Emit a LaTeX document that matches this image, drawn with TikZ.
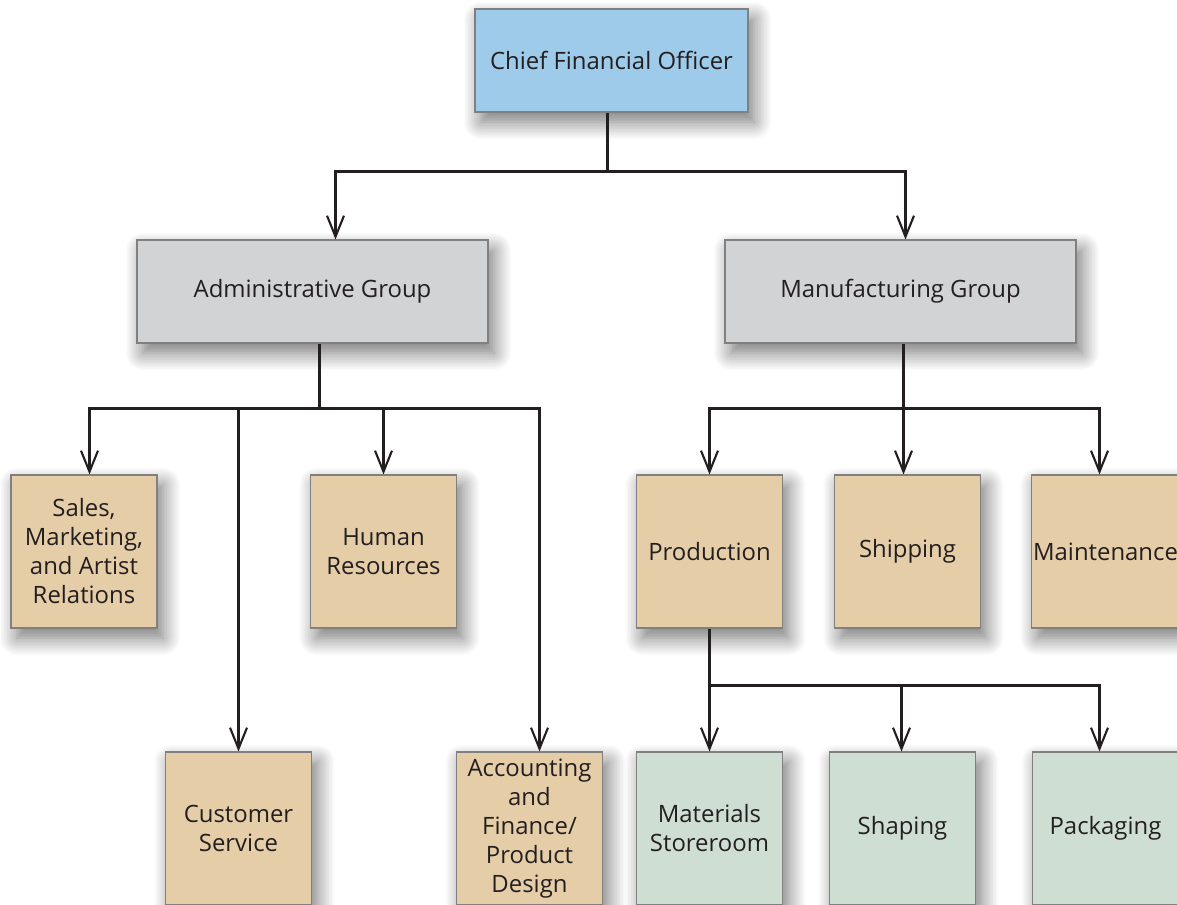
\documentclass[tikz,border=0pt]{standalone}
\usepackage{fontspec}
\setmainfont{Open Sans}
\usetikzlibrary{arrows.meta,shadows.blur}
\definecolor{bleu}{RGB}{157,203,233}
\definecolor{gris}{RGB}{209,211,212}
\definecolor{beige}{RGB}{229,205,168}
\definecolor{vert}{RGB}{207,222,210}
\definecolor{bord}{RGB}{128,128,128}
\definecolor{encre}{RGB}{35,31,32}

\begin{document}
\begin{tikzpicture}
\tikzset{boite/.style={draw=bord, line width=0.6pt, rectangle, align=center, text=encre,
    font=\fontsize{13.6pt}{16.5pt}\selectfont,
    blur shadow={shadow xshift=0.12cm, shadow yshift=-0.2cm, shadow blur radius=0.35cm,
      shadow blur steps=12, shadow opacity=55}},
  chef/.style={boite, fill=bleu, minimum width=5.46cm, minimum height=2.06cm},
  groupe/.style={boite, fill=gris, minimum width=7.02cm, minimum height=2.06cm},
  service/.style={boite, fill=beige, minimum width=2.92cm, minimum height=3.06cm, inner sep=1pt},
  atelier/.style={boite, fill=vert, minimum width=2.92cm, minimum height=3.06cm, inner sep=1pt},
  lien/.style={line width=1.2pt, draw=encre},
  fleche/.style={lien, -{Straight Barb[length=0.42cm, width=0.34cm, line width=1.2pt]}}}
\useasboundingbox (0,0) rectangle (23.54,-18.1);
\clip (0,0) rectangle (23.54,-18.1);
\node[chef] (C0) at (12.23,-1.21) {Chief Financial Officer};
\node[groupe] (G1) at (6.25,-5.83) {Administrative Group};
\node[groupe] (G2) at (18.01,-5.83) {Manufacturing Group};
\node[service] (S1) at (1.68,-11.03) {Sales,\\Marketing,\\and Artist\\Relations};
\node[service] (S2) at (4.77,-16.57) {Customer\\Service};
\node[service] (S3) at (7.67,-11.03) {Human\\Resources};
\node[service] (S4) at (10.59,-16.57) {Accounting\\and\\Finance/\\Product\\Design};
\node[service] (F1) at (14.19,-11.03) {Production};
\node[service] (F2) at (18.15,-11.03) {Shipping};
\node[service] (F3) at (22.11,-11.03) {Maintenance};
\node[atelier] (A1) at (14.19,-16.57) {Materials\\Storeroom};
\node[atelier] (A2) at (18.05,-16.57) {Shaping};
\node[atelier] (A3) at (22.11,-16.57) {Packaging};
\coordinate (J0) at (12.15,-3.43);
\coordinate (J1) at (6.39,-8.17);
\coordinate (J2) at (18.07,-8.17);
\coordinate (J3) at (14.19,-13.71);
\draw[lien] (J0 |- C0.south) -- (J0);
\draw[fleche] (J0) -| ([xshift=0.46cm]G1.north);
\draw[fleche] (J0) -| ([xshift=0.1cm]G2.north);
\draw[lien] (J1 |- G1.south) -- (J1);
\draw[fleche] (J1) -| ([xshift=0.11cm]S1.north);
\draw[fleche] (J1) -| (S2.north);
\draw[fleche] (J1) -| (S3.north);
\draw[fleche] (J1) -| ([xshift=0.2cm]S4.north);
\draw[lien] (J2 |- G2.south) -- (J2);
\draw[fleche] (J2) -| (F1.north);
\draw[fleche] (J2) -| ([xshift=-0.08cm]F2.north);
\draw[fleche] (J2) -| ([xshift=-0.12cm]F3.north);
\draw[lien] (J3 |- F1.south) -- (J3);
\draw[fleche] (J3) -| (A1.north);
\draw[fleche] (J3) -| ([xshift=-0.02cm]A2.north);
\draw[fleche] (J3) -| ([xshift=-0.12cm]A3.north);
\end{tikzpicture}
\end{document}
